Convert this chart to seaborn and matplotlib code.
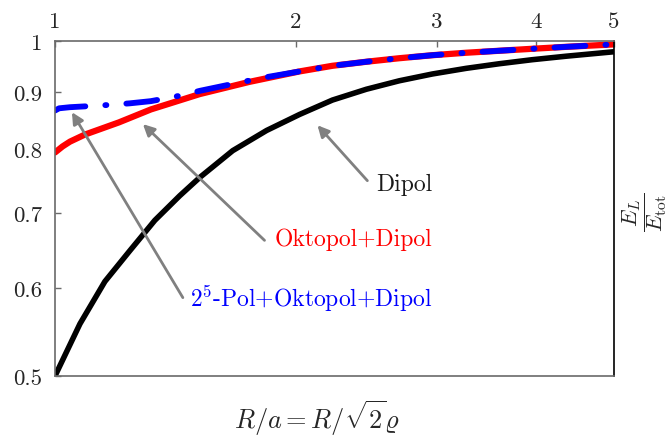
import matplotlib
matplotlib.use("Agg")
import matplotlib.pyplot as plt
import seaborn as sns
from matplotlib.ticker import NullLocator, FixedLocator

# ---- data ----
R_dipol = [1.0, 1.0745, 1.1545, 1.2405, 1.333, 1.432, 1.517, 1.668, 1.839, 2.022, 2.223,
           2.451, 2.695, 2.963, 3.267, 3.592, 3.949, 4.355, 5.0]
E_dipol = [0.500, 0.557, 0.608, 0.648, 0.690, 0.726, 0.754, 0.797, 0.831, 0.859, 0.885,
           0.905, 0.921, 0.934, 0.945, 0.954, 0.962, 0.969, 0.978]

R_okt = [1.0, 1.022, 1.044, 1.090, 1.202, 1.318, 1.517, 1.751, 2.022, 2.223, 2.451,
         2.695, 2.963, 3.267, 3.592, 3.949, 4.355, 5.0]
E_okt = [0.794, 0.804, 0.812, 0.824, 0.845, 0.868, 0.896, 0.919, 0.939, 0.950, 0.958,
         0.965, 0.971, 0.976, 0.980, 0.984, 0.988, 0.993]

R_pol5 = [1.0, 1.012, 1.044, 1.106, 1.1645, 1.2405, 1.318, 1.445, 1.517, 1.668, 1.839,
          2.022, 2.223, 2.451, 2.695, 2.963, 3.267, 3.592, 3.949, 4.355, 5.0]
E_pol5 = [0.866, 0.870, 0.872, 0.874, 0.876, 0.879, 0.883, 0.894, 0.902, 0.915, 0.928,
          0.939, 0.950, 0.958, 0.965, 0.971, 0.976, 0.980, 0.984, 0.988, 0.993]

x_ticks = [1, 2, 3, 4, 5]
x_tick_labels = ["1", "2", "3", "4", "5"]
y_ticks = [0.5, 0.6, 0.7, 0.8, 0.9, 1.0]
y_tick_labels = ["0.5", "0.6", "0.7", "0.8", "0.9", "1"]

label_dipol = "Dipol"
label_okt = "Oktopol+Dipol"
label_pol5 = r"$2^5$-Pol+Oktopol+Dipol"

# ---- style ----
sns.set_style("white")
plt.rcParams["font.family"] = "serif"
plt.rcParams["font.serif"] = ["cmr10"]
plt.rcParams["mathtext.fontset"] = "cm"
plt.rcParams["axes.formatter.use_mathtext"] = True
plt.rcParams["axes.unicode_minus"] = False
plt.rcParams["lines.scale_dashes"] = False

spine_gray = "#6a6a6a"
arrow_gray = "#808080"

fig = plt.figure(figsize=(6.71, 4.39), dpi=100)
ax = fig.add_axes([55 / 671, 1 - 377 / 439, (614 - 55) / 671, (377 - 42) / 439])

sns.lineplot(x=R_dipol, y=E_dipol, ax=ax, color="black", lw=4.0,
             estimator=None, sort=False)
sns.lineplot(x=R_okt, y=E_okt, ax=ax, color="#ff0000", lw=4.5,
             estimator=None, sort=False)
sns.lineplot(x=R_pol5, y=E_pol5, ax=ax, color="#0000ff", lw=4.2,
             estimator=None, sort=False)
blue = ax.lines[-1]
blue.set_dashes([22.3, 14.4, 0.8, 14.4])
blue.set_dash_capstyle("round")

ax.set_xscale("log")
ax.set_yscale("log")
ax.set_xlim(1, 5)
ax.set_ylim(0.5, 1.0)
ax.xaxis.set_major_locator(FixedLocator(x_ticks))
ax.xaxis.set_minor_locator(NullLocator())
ax.set_xticklabels(x_tick_labels)
ax.yaxis.set_major_locator(FixedLocator(y_ticks))
ax.yaxis.set_minor_locator(NullLocator())
ax.set_yticklabels(y_tick_labels)

ax.xaxis.tick_top()
ax.tick_params(axis="x", which="both", direction="in", length=4, width=1,
               color=spine_gray, labelsize=16.5, pad=7, top=True, bottom=False)
ax.tick_params(axis="y", which="both", direction="in", length=4, width=1,
               color=spine_gray, labelsize=16.5, pad=9, left=True, right=False)

for side in ["left", "top", "bottom"]:
    ax.spines[side].set_color(spine_gray)
    ax.spines[side].set_linewidth(1.2)
ax.spines["right"].set_color("black")
ax.spines["right"].set_linewidth(1.2)

ax.set_xlabel("")
ax.set_ylabel("")

# annotations
arrow_kw = dict(arrowstyle="-|>", color=arrow_gray, lw=2.0, mutation_scale=17,
                shrinkA=0, shrinkB=0)
ax.annotate("", xy=(2.129, 0.840), xytext=(2.458, 0.749), arrowprops=arrow_kw)
ax.annotate("", xy=(1.288, 0.842), xytext=(1.828, 0.662), arrowprops=arrow_kw)
ax.annotate("", xy=(1.050, 0.863), xytext=(1.445, 0.588), arrowprops=arrow_kw)

ax.text(2.963, 0.735, label_dipol, color="#1a1a1a", fontsize=17,
        ha="right", va="baseline")
ax.text(2.963, 0.656, label_okt, color="#ff0000", fontsize=17,
        ha="right", va="baseline")
ax.text(2.963, 0.578, label_pol5, color="#0000ff", fontsize=17,
        ha="right", va="baseline")

fig.text(317 / 671, 1 - 418 / 439, r"$R/a=R/\sqrt{2}\varrho$", fontsize=19,
         ha="center", va="center")
fig.text(645 / 671, 1 - 212 / 439, r"$\dfrac{E_L}{E_{\rm tot}}$", fontsize=16,
         ha="center", va="center", rotation=90)

fig.savefig("out.png", dpi=100)
